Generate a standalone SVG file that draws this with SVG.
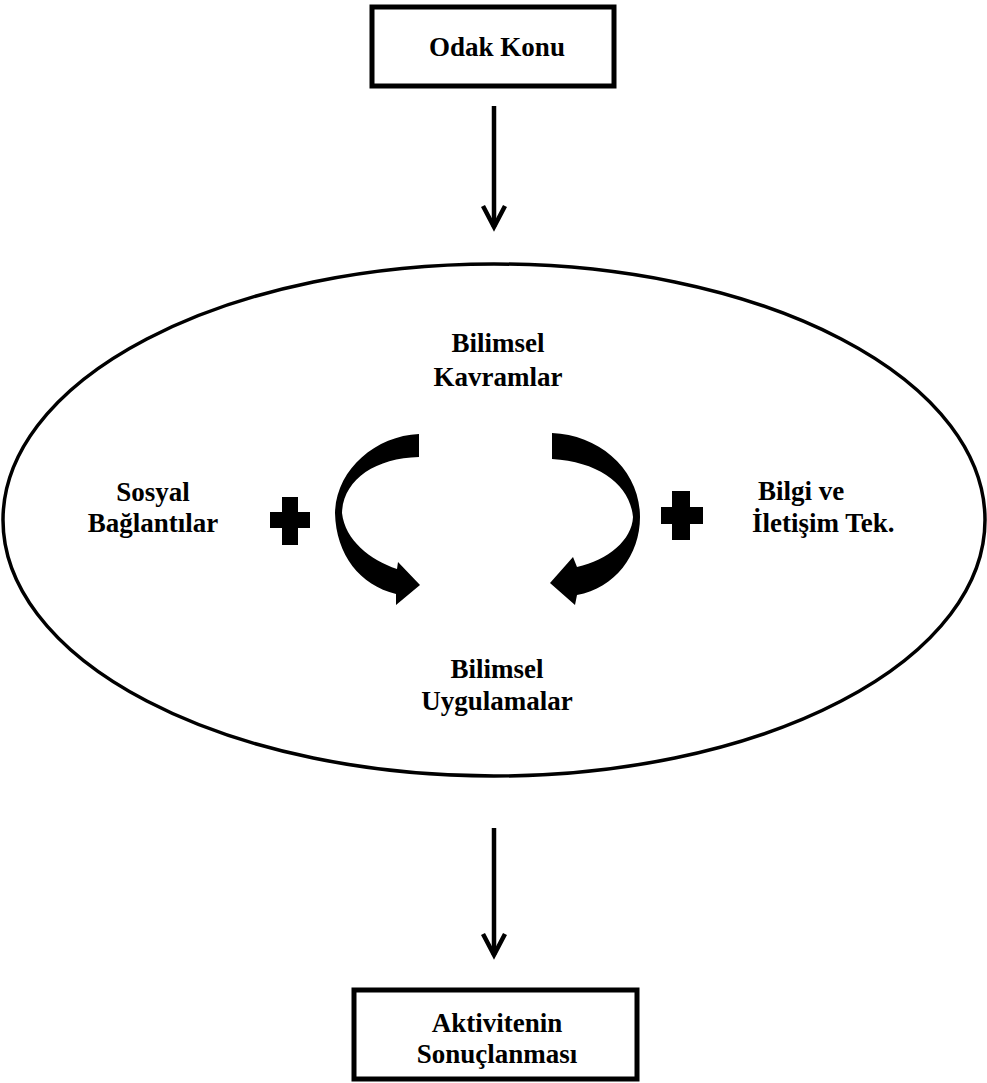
<svg xmlns="http://www.w3.org/2000/svg" width="987" height="1083" viewBox="0 0 987 1083">
<style>
.box{fill:#fff;stroke:#000;stroke-width:5}
.lbl{font-family:"Liberation Serif","Times New Roman",serif;font-weight:bold;font-size:27px;fill:#000}
.c{text-anchor:middle}
.conn{stroke:#000;stroke-width:4.5;fill:none}
.blk{fill:#000;stroke:none}
</style>
<defs>
<marker id="chev" markerUnits="userSpaceOnUse" markerWidth="34" markerHeight="34" viewBox="-28 -17 34 34" refX="0" refY="0" orient="auto" overflow="visible">
<path d="M -21 -11 L 0 0 L -21 11" fill="none" stroke="#000" stroke-width="4.5" stroke-linejoin="miter"/>
</marker>
</defs>
<rect width="987" height="1083" fill="#fff"/>
<g id="odak-konu">
<rect class="box" x="372" y="7" width="242" height="79"/>
<text class="lbl c" x="497" y="56">Odak Konu</text>
</g>
<g id="connectors">
<path class="conn" d="M 494 106 L 494 227" marker-end="url(#chev)"/>
<path class="conn" d="M 494 828 L 494 955" marker-end="url(#chev)"/>
</g>
<g id="cycle">
<ellipse cx="494" cy="520" rx="491" ry="256" fill="none" stroke="#000" stroke-width="3.5"/>
<path class="blk" d="M 419 434 C 375 436 336 470 335 513 C 336 555 360 585 396 594 L 396 605 L 420 585 L 398 562 L 397 569 C 370 560 345 540 342 513 C 343 480 375 458 419 457 Z"/>
<path class="blk" d="M 552 433 C 600 435 640 470 640 517 C 640 555 615 588 577 595 L 575 605 L 550 583 L 573 557 L 577 567 C 608 560 632 540 633 517 C 630 485 600 462 552 459 Z"/>
<path class="blk" d="M 282 497 H 298 V 512 H 310 V 528 H 298 V 545 H 282 V 528 H 270 V 512 H 282 Z"/>
<path class="blk" d="M 672 491 H 690 V 507 H 703 V 524 H 690 V 540 H 672 V 524 H 661 V 507 H 672 Z"/>
</g>
<g id="bilimsel-kavramlar">
<text class="lbl c" x="498" y="352">Bilimsel</text>
<text class="lbl c" x="498" y="386">Kavramlar</text>
</g>
<g id="sosyal-baglantilar">
<text class="lbl c" x="153" y="501">Sosyal</text>
<text class="lbl c" x="153" y="532">Bağlantılar</text>
</g>
<g id="bilgi-iletisim">
<text class="lbl" x="758" y="500">Bilgi ve</text>
<text class="lbl" x="752" y="532">İletişim Tek.</text>
</g>
<g id="bilimsel-uygulamalar">
<text class="lbl c" x="497" y="678">Bilimsel</text>
<text class="lbl c" x="497" y="710">Uygulamalar</text>
</g>
<g id="aktivitenin-sonuclanmasi">
<rect class="box" x="354" y="990" width="283" height="89"/>
<text class="lbl c" x="497" y="1032">Aktivitenin</text>
<text class="lbl c" x="497" y="1063">Sonuçlanması</text>
</g>
</svg>
